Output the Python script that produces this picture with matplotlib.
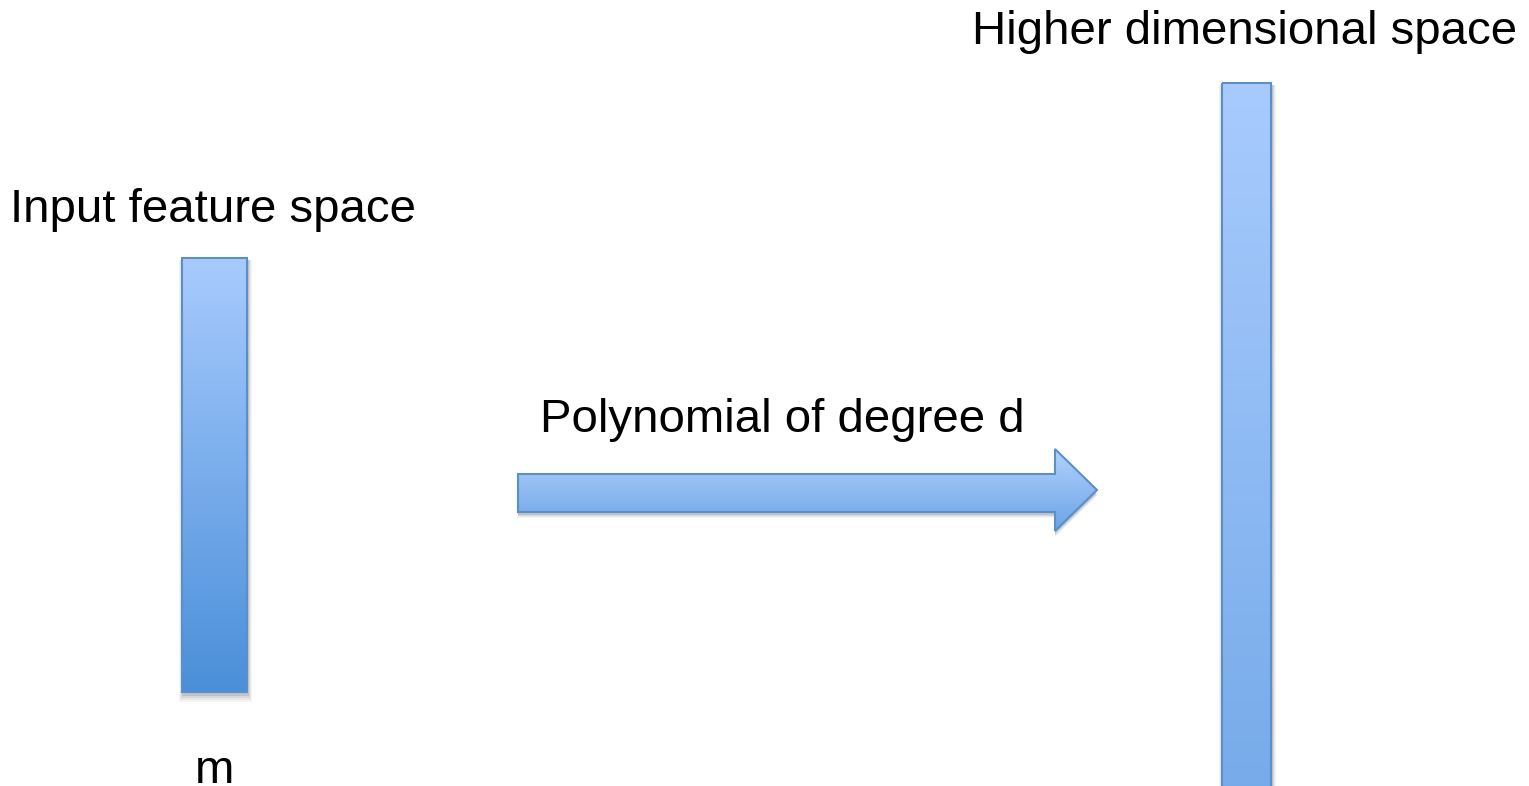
import matplotlib.pyplot as plt
import numpy as np
from matplotlib.patches import Rectangle, Polygon
from matplotlib.colors import LinearSegmentedColormap

W, H = 1529, 786

# boxes: (x0, x1), (y0, y1) in pixel coords, gradient top/bottom colours
box_names = ["input", "higher"]
box_x = [(182, 247), (1222, 1271)]
box_y = [(258, 692), (83, 900)]
box_top = ["#a8cbfe", "#a8cbfe"]
box_bottom = ["#4a8fd9", "#6fa6e6"]

# arrow outline
arrow_x = [518, 1055, 1055, 1097, 1055, 1055, 518]
arrow_y = [474, 474, 449, 490, 531, 512, 512]

labels = ["Input feature space", "Higher dimensional space", "Polynomial of degree d", "m"]
label_x = [10, 972, 540, 215]
label_y = [222, 44, 432, 783]  # baselines
label_ha = ["left", "left", "left", "center"]

EDGE = "#5b8fc9"

plt.rcParams["font.family"] = ["Liberation Sans", "DejaVu Sans"]

fig = plt.figure(figsize=(W / 100, H / 100), dpi=100)
ax = fig.add_axes([0, 0, 1, 1])
ax.set_xlim(0, W)
ax.set_ylim(H, 0)
ax.axis("off")

grad = np.linspace(0, 1, 256).reshape(-1, 1)


def shadow(ax, patch_fn):
    # soft grey drop shadow made of a few stacked translucent copies
    for k, a in zip([8, 6, 4, 2], [0.04, 0.05, 0.07, 0.09]):
        p = patch_fn(k)
        p.set_facecolor("black")
        p.set_alpha(a)
        p.set_edgecolor("none")
        ax.add_patch(p)


for (x0, x1), (y0, y1), ctop, cbot in zip(box_x, box_y, box_top, box_bottom):
    shadow(ax, lambda k, x0=x0, y0=y0, x1=x1, y1=y1: Rectangle(
        (x0 - k / 2 + 1, y0 + 2), x1 - x0 + k, y1 - y0 + k))
    cmap = LinearSegmentedColormap.from_list("g", [ctop, cbot])
    rect = Rectangle((x0, y0), x1 - x0, y1 - y0, facecolor="none",
                     edgecolor=EDGE, linewidth=1.5, zorder=3)
    ax.add_patch(rect)
    im = ax.imshow(grad, cmap=cmap, extent=(x0, x1, y1, y0), aspect="auto",
                   zorder=2, interpolation="bilinear")
    im.set_clip_path(rect)

pts = list(zip(arrow_x, arrow_y))
shadow(ax, lambda k: Polygon([(px, py + 2 + k / 2) for px, py in pts], closed=True))
arrow = Polygon(pts, closed=True, facecolor="none", edgecolor=EDGE,
                linewidth=1.5, zorder=3)
ax.add_patch(arrow)
cmap = LinearSegmentedColormap.from_list("a", ["#b2d2ff", "#6ca3e4"])
im = ax.imshow(grad, cmap=cmap,
               extent=(min(arrow_x), max(arrow_x), max(arrow_y), min(arrow_y)),
               aspect="auto", zorder=2, interpolation="bilinear")
im.set_clip_path(arrow)
ax.set_xlim(0, W)
ax.set_ylim(H, 0)

for txt, x, y, ha in zip(labels, label_x, label_y, label_ha):
    ax.text(x, y, txt, fontsize=34.1, ha=ha, va="baseline", color="black")

fig.savefig("out.png", dpi=100)
